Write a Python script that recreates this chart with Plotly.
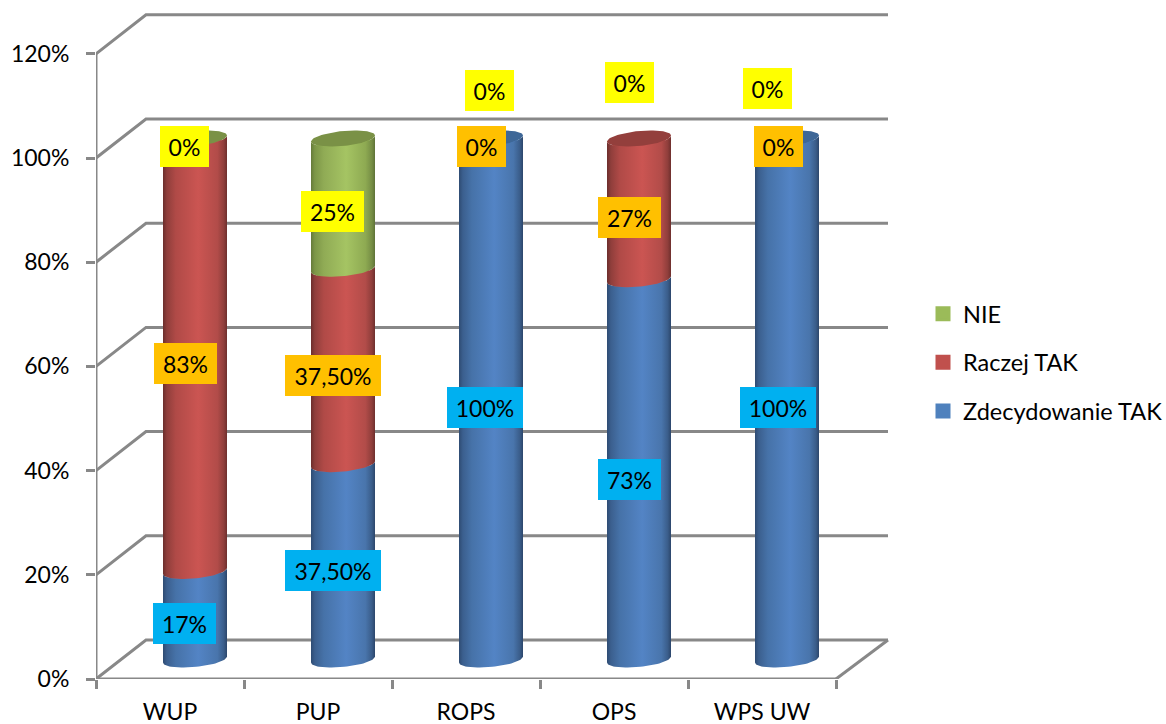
import numpy as np
import plotly.graph_objects as go

# ---------- data ----------
categories = ["WUP", "PUP", "ROPS", "OPS", "WPS UW"]
zdecydowanie_tak = [17, 37.5, 100, 73, 100]
raczej_tak = [83, 37.5, 0, 27, 0]
nie = [0, 25, 0, 0, 0]
y_tick_values = [0, 20, 40, 60, 80, 100, 120]
y_tick_labels = ["0%", "20%", "40%", "60%", "80%", "100%", "120%"]
labels_nie = ["0%", "25%", "0%", "0%", "0%"]
labels_raczej = ["83%", "37,50%", "0%", "27%", "0%"]
labels_zdec = ["17%", "37,50%", "100%", "73%", "100%"]
top_series = [2, 2, 0, 1, 0]  # which series colours each cylinder's lid

# ---------- style / geometry ----------
FONT = "Lato"
FS = 23
W, H = 1166, 724
PX0, PY0, PX_SLOT, PX_PCT = 96, 679, 148.0, 5.21
PX_R, PY_T = 892, 11          # plot-area edges, a little past the wall so lines are not cut
DX_PX, DY_PX = 50.0, 39.0
dx, dy = DX_PX / PX_SLOT, DY_PX / PX_PCT
X_WALL = (888 - PX0) / PX_SLOT
XMAX = (PX_R - PX0) / PX_SLOT
YMAX = (PY0 - PY_T) / PX_PCT
GRID = "#888888"

def px2x(p): return (p - PX0) / PX_SLOT
def py2y(p): return (PY0 - p) / PX_PCT

R_X = 32 / PX_SLOT
TILT = 3 / PX_PCT
R_Y = 7.5 / PX_PCT
Y_OFF = dy / 2
X_OFF = 0.5 + dx / 2

def arc(cx, cy, t0, t1, n=40):
    t = np.linspace(t0, t1, n)
    return cx + R_X * np.cos(t), cy + TILT * np.cos(t) + R_Y * np.sin(t)

series = [
    dict(name="Zdecydowanie TAK", v=zdecydowanie_tak, color="#4F81BD", cap="#3E6797", rank=3,
         scale=[[0, "#2E4B72"], [0.06, "#3B5F8E"], [0.2, "#4672A8"], [0.55, "#5384C5"],
                [0.85, "#4975AC"], [0.95, "#3A5D8A"], [1, "#2C466B"]]),
    dict(name="Raczej TAK", v=raczej_tak, color="#C0504D", cap="#933F3C", rank=2,
         scale=[[0, "#6B2E2C"], [0.06, "#8F3E3B"], [0.2, "#B04A47"], [0.55, "#CB5552"],
                [0.85, "#B24C49"], [0.95, "#8F3E3B"], [1, "#6E2F2D"]]),
    dict(name="NIE", v=nie, color="#9BBB59", cap="#7A9146", rank=1,
         scale=[[0, "#657A3A"], [0.06, "#7C9647"], [0.2, "#90AB55"], [0.55, "#A5C463"],
                [0.85, "#8EAA52"], [0.95, "#768E45"], [1, "#5F7338"]]),
]

fig = go.Figure()

# back wall / floor grid
def line(xs, ys, width=3):
    fig.add_trace(go.Scatter(x=xs, y=ys, mode="lines", showlegend=False, hoverinfo="skip",
                             cliponaxis=False, line=dict(color=GRID, width=width)))

for v in y_tick_values:
    line([0, dx, X_WALL], [v, v + dy, v + dy])
line([5, X_WALL], [0, dy])
line([0, 0], [0, 120])
line([0, 5], [0, 0])

# bars: real data marks, shaded by the cylinder bodies below
xpos = [i + X_OFF for i in range(len(categories))]
cum = np.zeros(len(categories))
bases = []
for s in series:
    vals = np.array(s["v"], float)
    bases.append(cum.copy())
    fig.add_trace(go.Bar(x=xpos, y=vals, base=cum + Y_OFF, width=50 / PX_SLOT, name=s["name"],
                         legendgroup=s["name"], legendrank=s["rank"],
                         marker=dict(color=s["color"], line=dict(color=s["color"], width=3)),
                         customdata=categories, hovertemplate="%{customdata}: %{y}%<extra>" + s["name"] + "</extra>"))
    cum = cum + vals

# cylinder bodies with horizontal shading
for s, base in zip(series, bases):
    for i, v in enumerate(s["v"]):
        if v <= 0:
            continue
        cx = xpos[i]
        b0, b1 = base[i] + Y_OFF, base[i] + v + Y_OFF
        xa, ya = arc(cx, b0, np.pi, 2 * np.pi)
        xb, yb = arc(cx, b1, 2 * np.pi, np.pi)
        fig.add_trace(go.Scatter(x=np.r_[xa, xb, xa[0]], y=np.r_[ya, yb, ya[0]], mode="lines",
                                 line=dict(width=0), fill="toself", showlegend=False, hoverinfo="skip",
                                 cliponaxis=False,
                                 fillgradient=dict(type="horizontal", colorscale=s["scale"])))

# lids
for i, si in enumerate(top_series):
    xa, ya = arc(xpos[i], cum[i] + Y_OFF, 0, 2 * np.pi, 80)
    fig.add_trace(go.Scatter(x=xa, y=ya, mode="lines", line=dict(width=0), fill="toself",
                             fillcolor=series[si]["cap"], showlegend=False, hoverinfo="skip", cliponaxis=False))

# data labels (hand-placed in the original): centre pixel x, y, box width
placements = [
    (labels_nie, "#FFFF00", [(184.5, 146.3, 49), (332.5, 211.3, 63), (489.3, 90.5, 49), (629, 82.5, 49), (767, 88.5, 49)]),
    (labels_raczej, "#FFC000", [(185, 363.5, 63), (333, 375, 96), (481, 146.3, 49), (629.5, 217.3, 63), (778, 146.3, 49)]),
    (labels_zdec, "#00B0F0", [(184.5, 623.3, 63), (333, 570.3, 96), (485, 407.3, 76), (629.5, 479, 63), (778, 407.3, 76)]),
]
annotations = []
for texts, col, places in placements:
    for t, (px, py, w) in zip(texts, places):
        annotations.append(dict(x=px2x(px), y=py2y(py), text=t, showarrow=False, width=w, height=41,
                                bgcolor=col, align="center", valign="middle", borderpad=0, borderwidth=0,
                                font=dict(family=FONT, size=FS, color="black")))

fig.update_layout(
    width=W, height=H, autosize=False, barmode="overlay", plot_bgcolor="white", paper_bgcolor="white",
    margin=dict(l=PX0, r=W - PX_R, t=PY_T, b=H - PY0, pad=0, autoexpand=False),
    font=dict(family=FONT, size=FS, color="black"),
    annotations=annotations,
    legend=dict(x=(923 - PX0) / (PX_R - PX0), xanchor="left", y=(PY0 - 292) / (PY0 - PY_T), yanchor="top",
                traceorder="grouped", tracegroupgap=15, bgcolor="rgba(0,0,0,0)", font=dict(family=FONT, size=23.5)),
    xaxis=dict(range=[0, XMAX], tickvals=[i + 0.5 for i in range(len(categories))], ticktext=categories,
               showgrid=False, zeroline=False, showline=False, ticks="", ticklabelstandoff=17, automargin=False,
               minor=dict(ticks="outside", tick0=0, dtick=1, ticklen=9, tickwidth=2.5, tickcolor=GRID, showgrid=False)),
    yaxis=dict(range=[0, YMAX], tickvals=y_tick_values, ticktext=y_tick_labels, showgrid=False, zeroline=False,
               showline=False, ticks="outside", ticklen=9, tickwidth=2.5, tickcolor=GRID, ticklabelstandoff=12,
               automargin=False),
)
fig.write_html("out.html", config={"displayModeBar": False}, post_script="document.body.style.margin='0';")
